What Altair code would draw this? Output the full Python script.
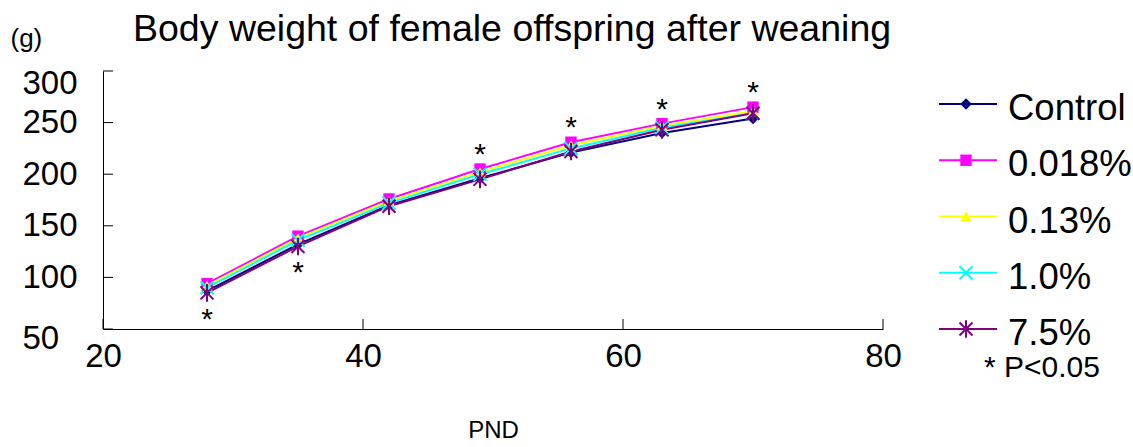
import altair as alt
import pandas as pd

# ---- data ----
pnd = [28, 35, 42, 49, 56, 63, 70]
series_names = ["Control", "0.018%", "0.13%", "1.0%", "7.5%"]
control = [87, 132, 170, 196, 221, 240, 254]
g0018 = [94, 140, 176, 205, 231, 249, 265]
g013 = [92, 138, 174, 202, 228, 247, 261]
g10 = [90, 136, 172, 200, 225, 245, 259]
g75 = [85, 130, 169, 195, 222, 243, 259]
sig_below = [28, 35]
sig_above = [49, 56, 63, 70]
y_ticks = [50, 100, 150, 200, 250, 300]
x_ticks = [20, 40, 60, 80]

colors = ["#000080", "#FF00FF", "#FFFF00", "#00FFFF", "#800080"]
shapes = ["diamond", "square", "triangle-up",
          "M-1,-1L1,1M-1,1L1,-1",
          "M-1,-1L1,1M-1,1L1,-1M0,-1.35L0,1.35"]
FONT = "Liberation Sans"

values = [control, g0018, g013, g10, g75]
rows = []
for i, (name, vals) in enumerate(zip(series_names, values)):
    for p, v in zip(pnd, vals):
        rows.append({"series": name, "order": i, "pnd": p, "value": v})
df = pd.DataFrame(rows)

below = df[df.pnd.isin(sig_below)].groupby("pnd", as_index=False)["value"].min()
above = df[df.pnd.isin(sig_above)].groupby("pnd", as_index=False)["value"].max()
below["star"] = "*"
above["star"] = "*"

yscale = alt.Scale(domain=[50, 300], nice=False, zero=False)
xscale = alt.Scale(domain=[20, 80], nice=False, zero=False)
color = alt.Color("series:N", scale=alt.Scale(domain=series_names, range=colors), legend=None)
shape = alt.Shape("series:N", scale=alt.Scale(domain=series_names, range=shapes), legend=None)

base = alt.Chart(df)

main_x = alt.X("pnd:Q", scale=xscale,
               axis=alt.Axis(values=x_ticks, ticks=False, grid=False, domainColor="#000",
                             domainWidth=1, labelFontSize=33, labelPadding=11, labelColor="#000",
                             labelFont=FONT, labelFlush=False, labelOverlap=False,
                             title="PND", titleFont=FONT, titleFontSize=24,
                             titleFontWeight="normal", titleColor="#000", titleY=101,
                             titleBaseline="middle"))
main_y = alt.Y("value:Q", scale=yscale,
               axis=alt.Axis(values=y_ticks, ticks=False, grid=False, domainColor="#000",
                             domainWidth=1, labelFontSize=33, labelPadding=81, labelAlign="left",
                             labelColor="#000",
                             labelFont=FONT, labelFlush=False, labelOverlap=False,
                             labelOffset={"condition": [
                                 {"test": "datum.value == 300", "value": 12},
                                 {"test": "datum.value == 50", "value": 9}],
                                 "value": 0},
                             title="(g)", titleFont=FONT, titleFontSize=26,
                             titleFontWeight="normal", titleColor="#000", titleAngle=0,
                             titleX=-93, titleY=-33, titleAlign="left", titleBaseline="middle"))

lines = base.mark_line(strokeWidth=2).encode(
    x=main_x, y=main_y, color=color, detail="series:N", order="order:Q")

filled_pts = base.transform_filter(alt.datum.order < 3).mark_point(
    filled=True, size=130, opacity=1).encode(
    x=alt.X("pnd:Q", scale=xscale),
    y=alt.Y("value:Q", scale=yscale, axis=None),
    color=color, shape=shape, order="order:Q")

stroked_pts = base.transform_filter(alt.datum.order >= 3).mark_point(
    filled=False, size=170, strokeWidth=2, opacity=1).encode(
    x=alt.X("pnd:Q", scale=xscale),
    y=alt.Y("value:Q", scale=yscale, axis=None),
    color=color, shape=shape, order="order:Q")

ytick_df = pd.DataFrame({"value": y_ticks})
xtick_df = pd.DataFrame({"pnd": x_ticks})
yticks = alt.Chart(ytick_df).mark_rule(color="#000", strokeWidth=1).encode(
    y=alt.Y("value:Q", scale=yscale, axis=None), x=alt.value(0), x2=alt.value(10))
xticks = alt.Chart(xtick_df).mark_rule(color="#000", strokeWidth=1).encode(
    x=alt.X("pnd:Q", scale=xscale), y=alt.value(258), y2=alt.value(248))

stars_below = alt.Chart(below).mark_text(
    fontSize=30, font=FONT, color="#000", baseline="alphabetic", dy=36).encode(
    x=alt.X("pnd:Q", scale=xscale), y=alt.Y("value:Q", scale=yscale, axis=None), text="star:N")
stars_above = alt.Chart(above).mark_text(
    fontSize=30, font=FONT, color="#000", baseline="alphabetic", dy=-5).encode(
    x=alt.X("pnd:Q", scale=xscale), y=alt.Y("value:Q", scale=yscale, axis=None), text="star:N")

# ---- legend ----
leg_df = pd.DataFrame({"series": series_names, "order": list(range(5))})
leg_y = alt.Y("series:N", scale=alt.Scale(type="point", domain=series_names, range=[33, 258], padding=0),
              axis=None)
leg = alt.Chart(leg_df)
leg_lines = leg.mark_rule(strokeWidth=2).encode(
    y=leg_y, x=alt.value(836), x2=alt.value(894), color=color)
leg_filled = leg.transform_filter(alt.datum.order < 3).mark_point(
    filled=True, size=130, opacity=1).encode(y=leg_y, x=alt.value(863), color=color, shape=shape)
leg_stroked = leg.transform_filter(alt.datum.order >= 3).mark_point(
    filled=False, size=170, strokeWidth=2, opacity=1).encode(
    y=leg_y, x=alt.value(863), color=color, shape=shape)
leg_text = leg.mark_text(align="left", baseline="middle", fontSize=36.5, font=FONT,
                         color="#000", dy=5).encode(y=leg_y, x=alt.value(905), text="series:N")

extra_df = pd.DataFrame({"t": ["* P<0.05"]})
ptext = alt.Chart(extra_df).mark_text(align="left", baseline="middle", fontSize=30, font=FONT,
                                      color="#000").encode(
    x=alt.value(881), y=alt.value(297), text="t:N")

title_df = pd.DataFrame({"t": ["Body weight of female offspring after weaning"]})
title = alt.Chart(title_df).mark_text(align="left", baseline="alphabetic", fontSize=37.5, font=FONT,
                                      color="#000").encode(
    x=alt.value(30), y=alt.value(-30), text="t:N")

chart = alt.layer(
    lines, filled_pts, stroked_pts, yticks, xticks, stars_below, stars_above,
    leg_lines, leg_filled, leg_stroked, leg_text, ptext, title
).resolve_scale(y="independent").properties(
    width=780, height=258,
    padding={"left": 103, "top": 71, "right": 250, "bottom": 118},
    autosize=alt.AutoSizeParams(type="none"),
    background="white",
).configure_view(stroke=None)

chart.save("out.html", embed_options={"renderer": "svg", "actions": False})
